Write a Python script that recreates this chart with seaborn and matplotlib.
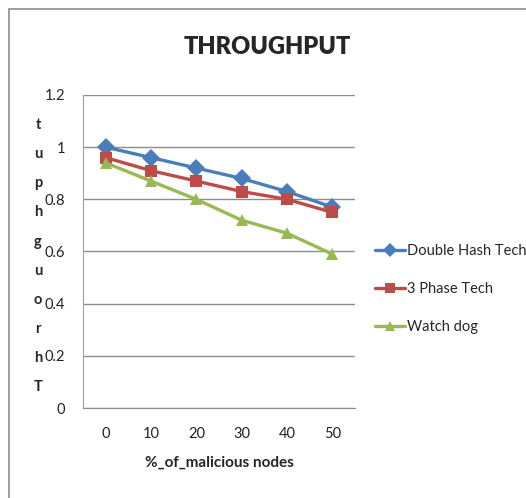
import matplotlib
matplotlib.use("Agg")
import matplotlib.pyplot as plt
import seaborn as sns
import pandas as pd
from matplotlib.patches import Rectangle

nodes = [0, 10, 20, 30, 40, 50]
double_hash = [1.00, 0.96, 0.92, 0.88, 0.83, 0.77]
three_phase = [0.96, 0.91, 0.87, 0.83, 0.80, 0.75]
watch_dog = [0.94, 0.87, 0.80, 0.72, 0.67, 0.59]
series_names = ["Double Hash Tech", "3 Phase Tech", "Watch dog"]
y_ticks = [0, 0.2, 0.4, 0.6, 0.8, 1, 1.2]
y_tick_labels = ["0", "0.2", "0.4", "0.6", "0.8", "1", "1.2"]

df = pd.DataFrame({
    "nodes": nodes * 3,
    "value": double_hash + three_phase + watch_dog,
    "series": [series_names[0]] * 6 + [series_names[1]] * 6 + [series_names[2]] * 6,
})

sns.set_style("white")
font = ["Lato", "DejaVu Sans"]
plt.rcParams["font.family"] = font

fig = plt.figure(figsize=(5.26, 4.98), dpi=100)
fig.patches.append(Rectangle((9 / 526, -0.1), 1.2, 1 - 9 / 498 + 0.1, transform=fig.transFigure,
                             fill=False, edgecolor="#8c8c8c", linewidth=1.2))
ax = fig.add_axes([83 / 526, 1 - 408 / 498, 272 / 526, 313 / 498])

palette = {series_names[0]: "#4A7EBB", series_names[1]: "#BE4B48", series_names[2]: "#98B954"}
markers = {series_names[0]: "D", series_names[1]: "s", series_names[2]: "^"}
sns.lineplot(data=df, x="nodes", y="value", hue="series", style="series",
             palette=palette, markers=markers, dashes=False, linewidth=2.4,
             markersize=9, markeredgewidth=0, ax=ax, legend=True)

ax.set_xlim(-5, 55)
ax.set_ylim(0, 1.2)
ax.set_yticks(y_ticks)
ax.set_yticklabels(y_tick_labels)
ax.set_xticks(nodes)
ax.set_xticklabels([str(n) for n in nodes])
ax.set_xticks([-5, 5, 15, 25, 35, 45, 55], minor=True)
ax.tick_params(axis="x", which="major", length=0, pad=14, labelsize=10.5, colors="#222222")
ax.tick_params(axis="x", which="minor", length=5, color="#a0a0a0", width=1, direction="out")
ax.tick_params(axis="y", which="major", length=5, color="#a0a0a0", width=1, direction="out",
               labelsize=10.5, pad=8, colors="#222222")
ax.yaxis.grid(True, color="#8c8c8c", linewidth=1)
ax.set_axisbelow(True)
for s in ["top", "right"]:
    ax.spines[s].set_visible(False)
ax.spines["left"].set_color("#a0a0a0")
ax.spines["bottom"].set_color("#8c8c8c")
ax.set_xlabel("%_of_malicious nodes", fontsize=11, fontweight="bold", labelpad=10)
ax.set_ylabel("")

fig.text(267 / 526, 1 - 47 / 498, "THROUGHPUT", ha="center", va="center",
         fontsize=17, fontweight="heavy")

letters = list("Throughput")
for i, ch in enumerate(letters):
    fig.text(38 / 526, 1 - (387 - i * 29.1) / 498, ch, ha="center", va="center",
             fontsize=10.5, fontweight="bold")

handles, labels = ax.get_legend_handles_labels()
leg = ax.legend(handles, labels, loc="center left", bbox_to_anchor=(1.0, 0.38),
                frameon=False, fontsize=10.5, handlelength=2.0, handletextpad=0.2,
                labelspacing=1.65, borderaxespad=1.0)
for h in leg.legend_handles:
    h.set_markersize(7)

fig.savefig("out.png", dpi=100)
